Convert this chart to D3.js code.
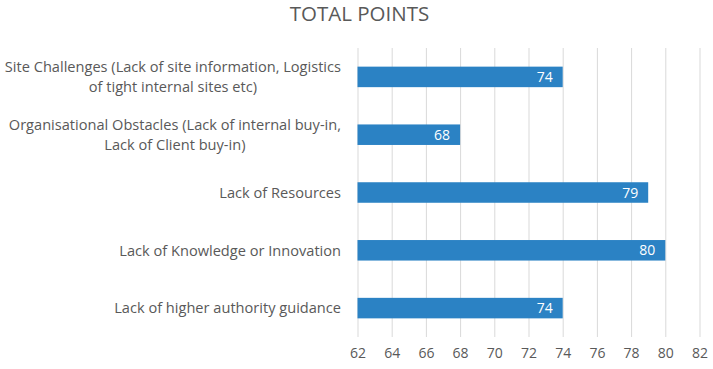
<!DOCTYPE html>
<html>
<head>
<meta charset="utf-8">
<script src="https://cdn.jsdelivr.net/npm/d3@7"></script>
<style>
  body { margin: 0; background: #fff; }
  svg { display: block; font-family: "Open Sans", sans-serif; }
</style>
</head>
<body>
<svg id="chart" width="713" height="369"></svg>
<script>
// chart data, top to bottom as drawn
const categories = [
  ["Site Challenges (Lack of site information, Logistics", "of tight internal sites etc)"],
  ["Organisational Obstacles (Lack of internal buy-in,", "Lack of Client buy-in)"],
  ["Lack of Resources"],
  ["Lack of Knowledge or Innovation"],
  ["Lack of higher authority guidance"]
];
const values = [74, 68, 79, 80, 74];
const tickValues = [62, 64, 66, 68, 70, 72, 74, 76, 78, 80, 82];
const title = "TOTAL POINTS";

const svg = d3.select("#chart"),
  plotLeft = 357.5, plotRight = 699.5, plotTop = 48, plotBottom = 337,
  labelRight = 341,
  barColor = "#2b82c4",
  gridColor = "#d9d9d9",
  textColor = "#595959";

const x = d3.scaleLinear().domain([62, 82]).range([plotLeft, plotRight]);
const y = d3.scaleBand().domain(d3.range(categories.length)).range([plotTop, plotBottom]).paddingInner(0.645).paddingOuter(0.3225);

svg.append("text")
  .attr("x", 359.5).attr("y", 21)
  .attr("text-anchor", "middle")
  .attr("fill", textColor)
  .style("font-size", "20.5px")
  .text(title);

// vertical gridlines
svg.append("g")
  .selectAll("line")
  .data(tickValues)
  .join("line")
  .attr("x1", d => x(d) + 0.5).attr("x2", d => x(d) + 0.5)
  .attr("y1", plotTop).attr("y2", plotBottom)
  .attr("stroke", gridColor).attr("stroke-width", 1);

// tick labels via d3 axis
const axis = svg.append("g")
  .attr("transform", `translate(0,${plotBottom})`)
  .call(d3.axisBottom(x).tickValues(tickValues).tickSize(0).tickPadding(11));
axis.select(".domain").remove();
axis.selectAll("text")
  .attr("fill", textColor)
  .style("font-size", "14px")
  .style("font-family", "'Open Sans', sans-serif");

// bars
svg.append("g")
  .selectAll("rect")
  .data(values)
  .join("rect")
  .attr("x", x(62))
  .attr("y", (d, i) => y(i))
  .attr("width", d => x(d) - x(62))
  .attr("height", y.bandwidth())
  .attr("fill", barColor);

// value labels
svg.append("g")
  .selectAll("text")
  .data(values)
  .join("text")
  .attr("x", d => x(d) - 10)
  .attr("y", (d, i) => y(i) + y.bandwidth() / 2)
  .attr("dy", "0.36em")
  .attr("text-anchor", "end")
  .attr("fill", "#fff")
  .style("font-size", "14px")
  .text(d => d);

// category labels: centred lines in a right aligned block
const catFont = 14.6;
const catG = svg.append("g");
categories.forEach((lines, i) => {
  const cy = y(i) + y.bandwidth() / 2,
    lh = 20,
    g = catG.append("g");
  const texts = lines.map((t, j) => g.append("text")
    .attr("y", cy + (j - (lines.length - 1) / 2) * lh)
    .attr("dy", "0.36em")
    .attr("fill", textColor)
    .style("font-size", catFont + "px")
    .text(t));
  const w = d3.max(texts, t => t.node().getComputedTextLength());
  texts.forEach(t => t.attr("x", labelRight - w / 2).attr("text-anchor", "middle"));
});
</script>
</body>
</html>
